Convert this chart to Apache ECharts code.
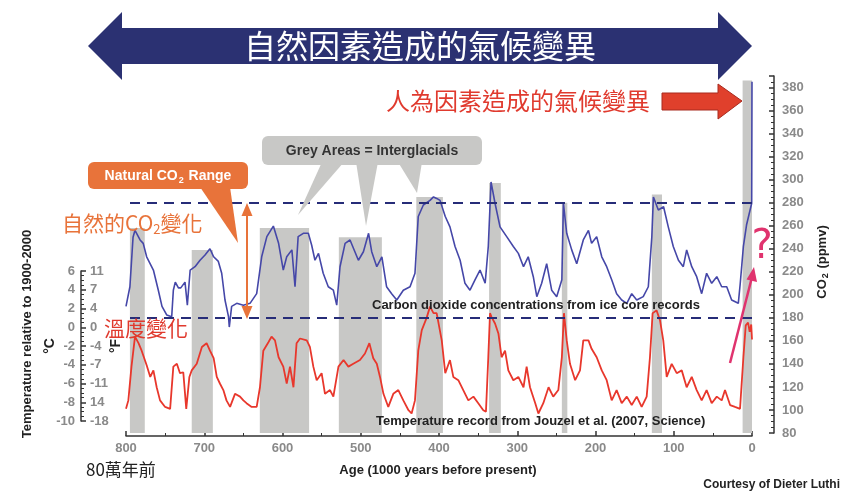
<!DOCTYPE html>
<html><head><meta charset="utf-8">
<script src="https://cdn.jsdelivr.net/npm/echarts@6/dist/echarts.min.js"></script>
<style>html,body{margin:0;padding:0;background:#fff}#c{width:843px;height:492px}</style>
</head><body><div id="c"></div>
<script>
// CO2 record [age (kyr BP), ppmv]
const co2Data = [[800,190],[795,207],[791,250],[788.5,256],[782,247.6],[778,244.7],[773.6,233],[765,221.5],[758.7,204],[754,190],[748,182.5],[741.6,181],[739.5,204],[737,211],[733,206],[730,206],[724.6,211],[721.6,191],[718,221.5],[711.8,224.4],[705.4,230],[699,234.6],[692.7,240],[688,233],[682,229],[677.7,218.7],[673.5,195.5],[669,181],[668,172],[665,190],[658.5,192.6],[650,191],[641.5,192.6],[633,201],[626.6,233],[620,250.5],[611.7,259.7],[605,244.7],[599,221.5],[594.6,233],[588,239],[584,207],[580,250.5],[573.4,253.4],[567,253.4],[562.7,243],[558.5,230],[554,236],[548,218.7],[541.5,207],[535,204],[530.7,191],[526.5,224.4],[520,244.7],[513.7,247.6],[503,230],[496.6,237.4],[490,253.4],[486,237.4],[479.5,224.4],[473,233],[467,207],[460.5,201],[454,195.5],[445.6,204],[437,207],[430.7,218.7],[426.5,268],[420,278],[411.5,282],[407,285],[403,283.7],[398.7,282],[392,268],[386,259],[379.5,242],[373,230],[366.8,210],[360.4,204],[354,213],[347.6,221.5],[341,210],[337,242],[333.5,298],[328.4,279.5],[322,259],[313.5,250.5],[305,242],[298.6,236],[292,224.4],[286,233],[279.5,215.7],[275,198.4],[268.8,210],[262.4,227],[256,204],[249.6,198.4],[243,213],[241,279.5],[236.8,253.4],[230.4,239],[224,227],[215.6,247.6],[209,256],[205,244.7],[198.5,250.5],[192,233],[185.7,224.4],[179.3,213],[173,201],[166.5,195.5],[160,192.6],[153.7,201],[147.3,195.5],[139,198.4],[132.5,207],[128,250.5],[126,285],[119.7,273.6],[113,276.5],[107,259],[100.6,242],[94,230],[87.8,224.4],[83.5,239],[77,224.4],[70.7,215.7],[64.3,201],[58,218.7],[51.5,210],[45,215.7],[38.7,207],[32.3,207],[26,195.5],[17.5,192.6],[15,210],[11,242],[7,260.6],[0.4,279.5],[0,385]];
// Temperature record [age (kyr BP), °C]
const tempData = [[800,-8.7],[797,-7.8],[793,-4.2],[788.5,-1.0],[784,-1.7],[780,-2.5],[773.6,-4.05],[769,-5.3],[765,-4.6],[760.8,-6.4],[756.5,-7.8],[750,-8.5],[743.6,-8.7],[739.5,-4.2],[735,-3.9],[731,-4.9],[726.8,-4.8],[723,-8.7],[719,-5.3],[716,-4.6],[709.6,-3.9],[703,-2.1],[697,-1.7],[692.7,-2.5],[688,-3.3],[684,-5.3],[680,-6.0],[675.6,-6.7],[671.6,-7.8],[667,-8.5],[660.7,-7.1],[654.3,-7.4],[650,-7.8],[646,-8.1],[639.4,-8.5],[633,-8.5],[628.8,-6.4],[624.5,-2.5],[618,-1.6],[614,-1.0],[609.6,-1.4],[605,-3.2],[599,-4.2],[594.6,-6.0],[590.4,-4.2],[586,-6.4],[582,-1.7],[577.6,-1.2],[569,-1.4],[565,-2.1],[560.6,-4.2],[556.3,-5.65],[550,-4.9],[545.7,-7.1],[539.3,-6.7],[535,-7.4],[528.5,-4.2],[522,-3.5],[515.8,-4.2],[509.5,-3.9],[501,-3.5],[494.6,-2.8],[489,-1.7],[484,-3.3],[479.5,-3.9],[475.4,-5.3],[471,-7.1],[464.8,-8.5],[458.4,-7.1],[452,-6.7],[445.6,-7.8],[439,-8.85],[435,-9.2],[430.7,-7.8],[426.5,-2.5],[422,-0.3],[415.8,1.0],[411.5,2.2],[407,1.5],[403,1.5],[396.5,-1.4],[392,-4.9],[386,-3.5],[381.7,-5.3],[375.3,-5.65],[369,-6.7],[362.5,-7.8],[356,-7.4],[349.8,-8.1],[343.4,-8.85],[340,-9.0],[337,-3.2],[334.8,1.5],[333,1.1],[328.4,0.4],[324,-0.7],[320,-3.2],[315.6,-2.5],[311.4,-4.6],[305,-5.65],[298.6,-5.3],[292,-6.4],[288,-4.2],[283.7,-6.4],[277,-8.1],[273,-9.2],[266.7,-8.1],[260,-6.4],[254,-7.4],[247.5,-6.7],[243,-3.2],[240.3,1.5],[236.8,-1.4],[232.6,-3.9],[226,-5.65],[219.8,-4.6],[215.6,-1.4],[209,-1.4],[205,-2.3],[198.5,-3.2],[192,-4.6],[185.7,-5.65],[179.3,-7.8],[173,-6.7],[166.5,-8.1],[160,-7.4],[153.7,-8.3],[147.3,-7.4],[141,-8.5],[134.6,-7.4],[130.4,-3.2],[127,1.5],[122,1.8],[117.6,0.75],[113.4,-1.4],[109,-5.3],[102.6,-3.9],[96.2,-4.9],[89.8,-4.6],[83.5,-6.4],[77,-5.3],[70.7,-6.7],[64.3,-7.8],[58,-6.7],[51.5,-8.1],[45,-7.4],[38.7,-7.8],[34.5,-6.7],[28,-8.3],[21.7,-8.5],[15.3,-8.7],[11,-3.2],[8,0.2],[5,0.5],[3,-0.5],[1,0.3],[0,-1.3]];
// Interglacial (grey) bands
const bandStart = [795, 716, 629, 528, 429, 336, 243, 128, 12];
const bandEnd   = [776, 689, 566, 473, 395, 321, 236, 115, 0];
const bandTop   = [258, 239, 258, 250, 285, 297, 280, 287, 386];
// Natural CO2 range limits
const co2RangeLines = [280, 180];
// Temperature tick labels
const celsiusTicks = [-10, -8, -6, -4, -2, 0, 2, 4, 6];
const fahrenheitLabels = ['-18', '14', '-11', '-7', '-4', '0', '4', '7', '11'];

const navy = '#2b3172', orange = '#e8733a', red = '#e03a2e', pink = '#e0336e', grey = '#c8c8c6';
const LAT = '"Liberation Sans", Arial, sans-serif';
const CJK = '"Noto Sans CJK TC", sans-serif';

const chart = echarts.init(document.getElementById('c'), null, {renderer: 'canvas'});

function txt(x, y, text, o) {
  o = o || {};
  return {
    type: 'text', x: x, y: y, rotation: o.rotation || 0, z: 100,
    style: Object.assign({
      text: text, fill: o.fill || '#222', fontSize: o.fontSize || 13,
      fontWeight: o.fontWeight || 'normal', fontFamily: o.fontFamily || LAT,
      align: o.align || 'left', verticalAlign: 'middle',
      textAlign: o.align || 'left', textVerticalAlign: 'middle'
    }, o.rich ? {rich: o.rich} : {})
  };
}
function poly(points, fill, extra) {
  return Object.assign({type: 'polygon', z: 90, shape: {points: points}, style: {fill: fill}}, extra || {});
}

const bands = bandStart.map((s, i) => [{coord: [s, 80]}, {coord: [bandEnd[i], bandTop[i]]}]);

const axisLabelStyle = {color: '#8a8a8a', fontWeight: 'bold', fontSize: 13, fontFamily: LAT};

chart.setOption({
  animation: false,
  backgroundColor: '#ffffff',
  grid: [
    {left: 126, right: 91, top: 76, bottom: 59},
    {left: 126, right: 91, top: 271, bottom: 71}
  ],
  xAxis: [
    {gridIndex: 0, type: 'value', min: 0, max: 800, interval: 100, inverse: true, offset: 3,
     axisLine: {onZero: false, lineStyle: {color: '#333', width: 1.5}},
     axisTick: {inside: true, length: 5, lineStyle: {color: '#333', width: 1.5}},
     minorTick: {show: true, splitNumber: 2, length: 3, lineStyle: {color: '#333'}},
     axisLabel: Object.assign({margin: 6}, axisLabelStyle),
     splitLine: {show: false}},
    {gridIndex: 1, type: 'value', min: 0, max: 800, inverse: true, show: false, axisLine: {onZero: false}}
  ],
  yAxis: [
    {gridIndex: 0, type: 'value', min: 80, max: 390, interval: 20, position: 'right', offset: 22,
     axisLine: {show: true, onZero: false, lineStyle: {color: '#333', width: 1.5}},
     axisTick: {show: true, inside: true, length: 5, lineStyle: {color: '#333', width: 1.5}},
     minorTick: {show: true, splitNumber: 4, length: 3, lineStyle: {color: '#333'}},
     axisLabel: Object.assign({margin: 8, showMaxLabel: false}, axisLabelStyle),
     splitLine: {show: false}},
    {gridIndex: 1, type: 'value', min: -10, max: 6, interval: 2, position: 'left', offset: 45,
     axisLine: {show: true, onZero: false, lineStyle: {color: '#333', width: 1.5}},
     axisTick: {show: true, inside: true, length: 5, lineStyle: {color: '#333', width: 1.5}},
     minorTick: {show: true, splitNumber: 4, length: 3, lineStyle: {color: '#333'}},
     axisLabel: Object.assign({margin: 6}, axisLabelStyle),
     splitLine: {show: false}},
    {gridIndex: 1, type: 'value', min: -10, max: 6, interval: 2, position: 'left', offset: 45,
     axisLine: {show: false, onZero: false}, axisTick: {show: false},
     axisLabel: Object.assign({inside: true, margin: 9,
       formatter: v => { const i = celsiusTicks.indexOf(v); return i >= 0 ? fahrenheitLabels[i] : ''; }}, axisLabelStyle),
     splitLine: {show: false}}
  ],
  series: [
    {name: 'bands', type: 'line', xAxisIndex: 0, yAxisIndex: 0, z: 1, data: [[0, 80]], symbol: 'none',
     lineStyle: {opacity: 0}, silent: true,
     markArea: {silent: true, itemStyle: {color: grey}, data: bands}},
    {name: 'CO2', type: 'line', xAxisIndex: 0, yAxisIndex: 0, z: 3, data: co2Data, symbol: 'none',
     lineStyle: {color: '#4547a8', width: 1.6}, itemStyle: {color: '#4547a8'},
     markLine: {silent: true, symbol: 'none', label: {show: false},
       lineStyle: {color: '#262c78', type: [10, 7], width: 2},
       data: co2RangeLines.map(v => ({yAxis: v}))}},
    {name: 'Temperature', type: 'line', xAxisIndex: 1, yAxisIndex: 1, z: 3, data: tempData, symbol: 'none',
     lineStyle: {color: '#e8372c', width: 1.8}, itemStyle: {color: '#e8372c'}}
  ],
  graphic: [
    // big double arrow
    poly([[88,46],[122,12],[122,28],[718,28],[718,12],[752,46],[718,80],[718,64],[122,64],[122,80]], navy),
    txt(420, 46, '自然因素造成的氣候變異', {fill: '#ffffff', fontSize: 32, fontFamily: CJK, align: 'center'}),
    // anthropogenic arrow
    txt(650, 101, '人為因素造成的氣候變異', {fill: red, fontSize: 24, fontFamily: CJK, align: 'right'}),
    poly([[662,93],[718,93],[718,84],[742,101],[718,119],[718,110],[662,110]], '#e0402c', {style: {fill: '#e0402c', stroke: '#a82a1e', lineWidth: 1}}),
    // grey areas callout
    poly([[322,162],[344,162],[298,215]], grey),
    poly([[356,162],[378,162],[366,226]], grey),
    poly([[398,162],[422,162],[417,193]], grey),
    {type: 'rect', z: 91, shape: {x: 262, y: 136, width: 220, height: 29, r: 6}, style: {fill: grey}},
    txt(372, 151, 'Grey Areas = Interglacials', {fontWeight: 'bold', fontSize: 14, align: 'center', fill: '#333'}),
    // natural CO2 range callout
    poly([[200,187],[230,187],[238,243]], orange),
    {type: 'rect', z: 91, shape: {x: 88, y: 162, width: 160, height: 27, r: 6}, style: {fill: orange}},
    txt(168, 176, 'Natural CO{s|2} Range', {fontWeight: 'bold', fontSize: 14, align: 'center', fill: '#ffffff',
      rich: {s: {fontSize: 9, fontWeight: 'bold', fill: '#fff', fontFamily: LAT, padding: [9, 1, 0, 1]}}}),
    // orange double arrow
    {type: 'polyline', z: 95, shape: {points: [[247,212],[247,311]]}, style: {stroke: orange, lineWidth: 2}},
    poly([[247,203],[241.5,216],[252.5,216]], orange, {z: 95}),
    poly([[247,319],[241.5,306],[252.5,306]], orange, {z: 95}),
    txt(62, 223, '自然的CO{s|2}變化', {fill: orange, fontSize: 21, fontFamily: CJK,
      rich: {s: {fontSize: 13, fill: orange, fontFamily: CJK, padding: [12, 0, 0, 0]}}}),
    txt(104, 328, '溫度變化', {fill: red, fontSize: 21, fontFamily: CJK}),
    // in-plot labels
    txt(372, 305, 'Carbon dioxide concentrations from ice core records', {fontWeight: 'bold', fontSize: 13}),
    txt(376, 421, 'Temperature record from Jouzel et al. (2007, Science)', {fontWeight: 'bold', fontSize: 13}),
    // pink arrow and question mark
    {type: 'polyline', z: 95, shape: {points: [[730,363],[751.5,279]]}, style: {stroke: pink, lineWidth: 2.5}},
    poly([[754,267],[757,282],[746.5,279.5]], pink, {z: 95}),
    txt(762, 248, '?', {fill: pink, fontSize: 40, fontFamily: '"DejaVu Sans", sans-serif', align: 'center'}),
    // axis titles
    txt(27, 334, 'Temperature relative to 1900-2000', {fontWeight: 'bold', fontSize: 13, align: 'center', rotation: Math.PI / 2}),
    txt(50, 346, '°C', {fontWeight: 'bold', fontSize: 14, align: 'center', rotation: Math.PI / 2}),
    txt(116, 346, '°F', {fontWeight: 'bold', fontSize: 14, align: 'center', rotation: Math.PI / 2}),
    txt(822, 262, 'CO{s|2} (ppmv)', {fontWeight: 'bold', fontSize: 13, align: 'center', rotation: Math.PI / 2,
      rich: {s: {fontSize: 9, fontWeight: 'bold', fontFamily: LAT, fill: '#222', padding: [8, 1, 0, 1]}}}),
    txt(438, 470, 'Age (1000 years before present)', {fontWeight: 'bold', fontSize: 13, align: 'center'}),
    txt(86, 470, '80萬年前', {fontSize: 17, fontFamily: CJK}),
    txt(840, 485, 'Courtesy of Dieter Luthi', {fontWeight: 'bold', fontSize: 12, align: 'right'})
  ]
});
</script></body></html>
